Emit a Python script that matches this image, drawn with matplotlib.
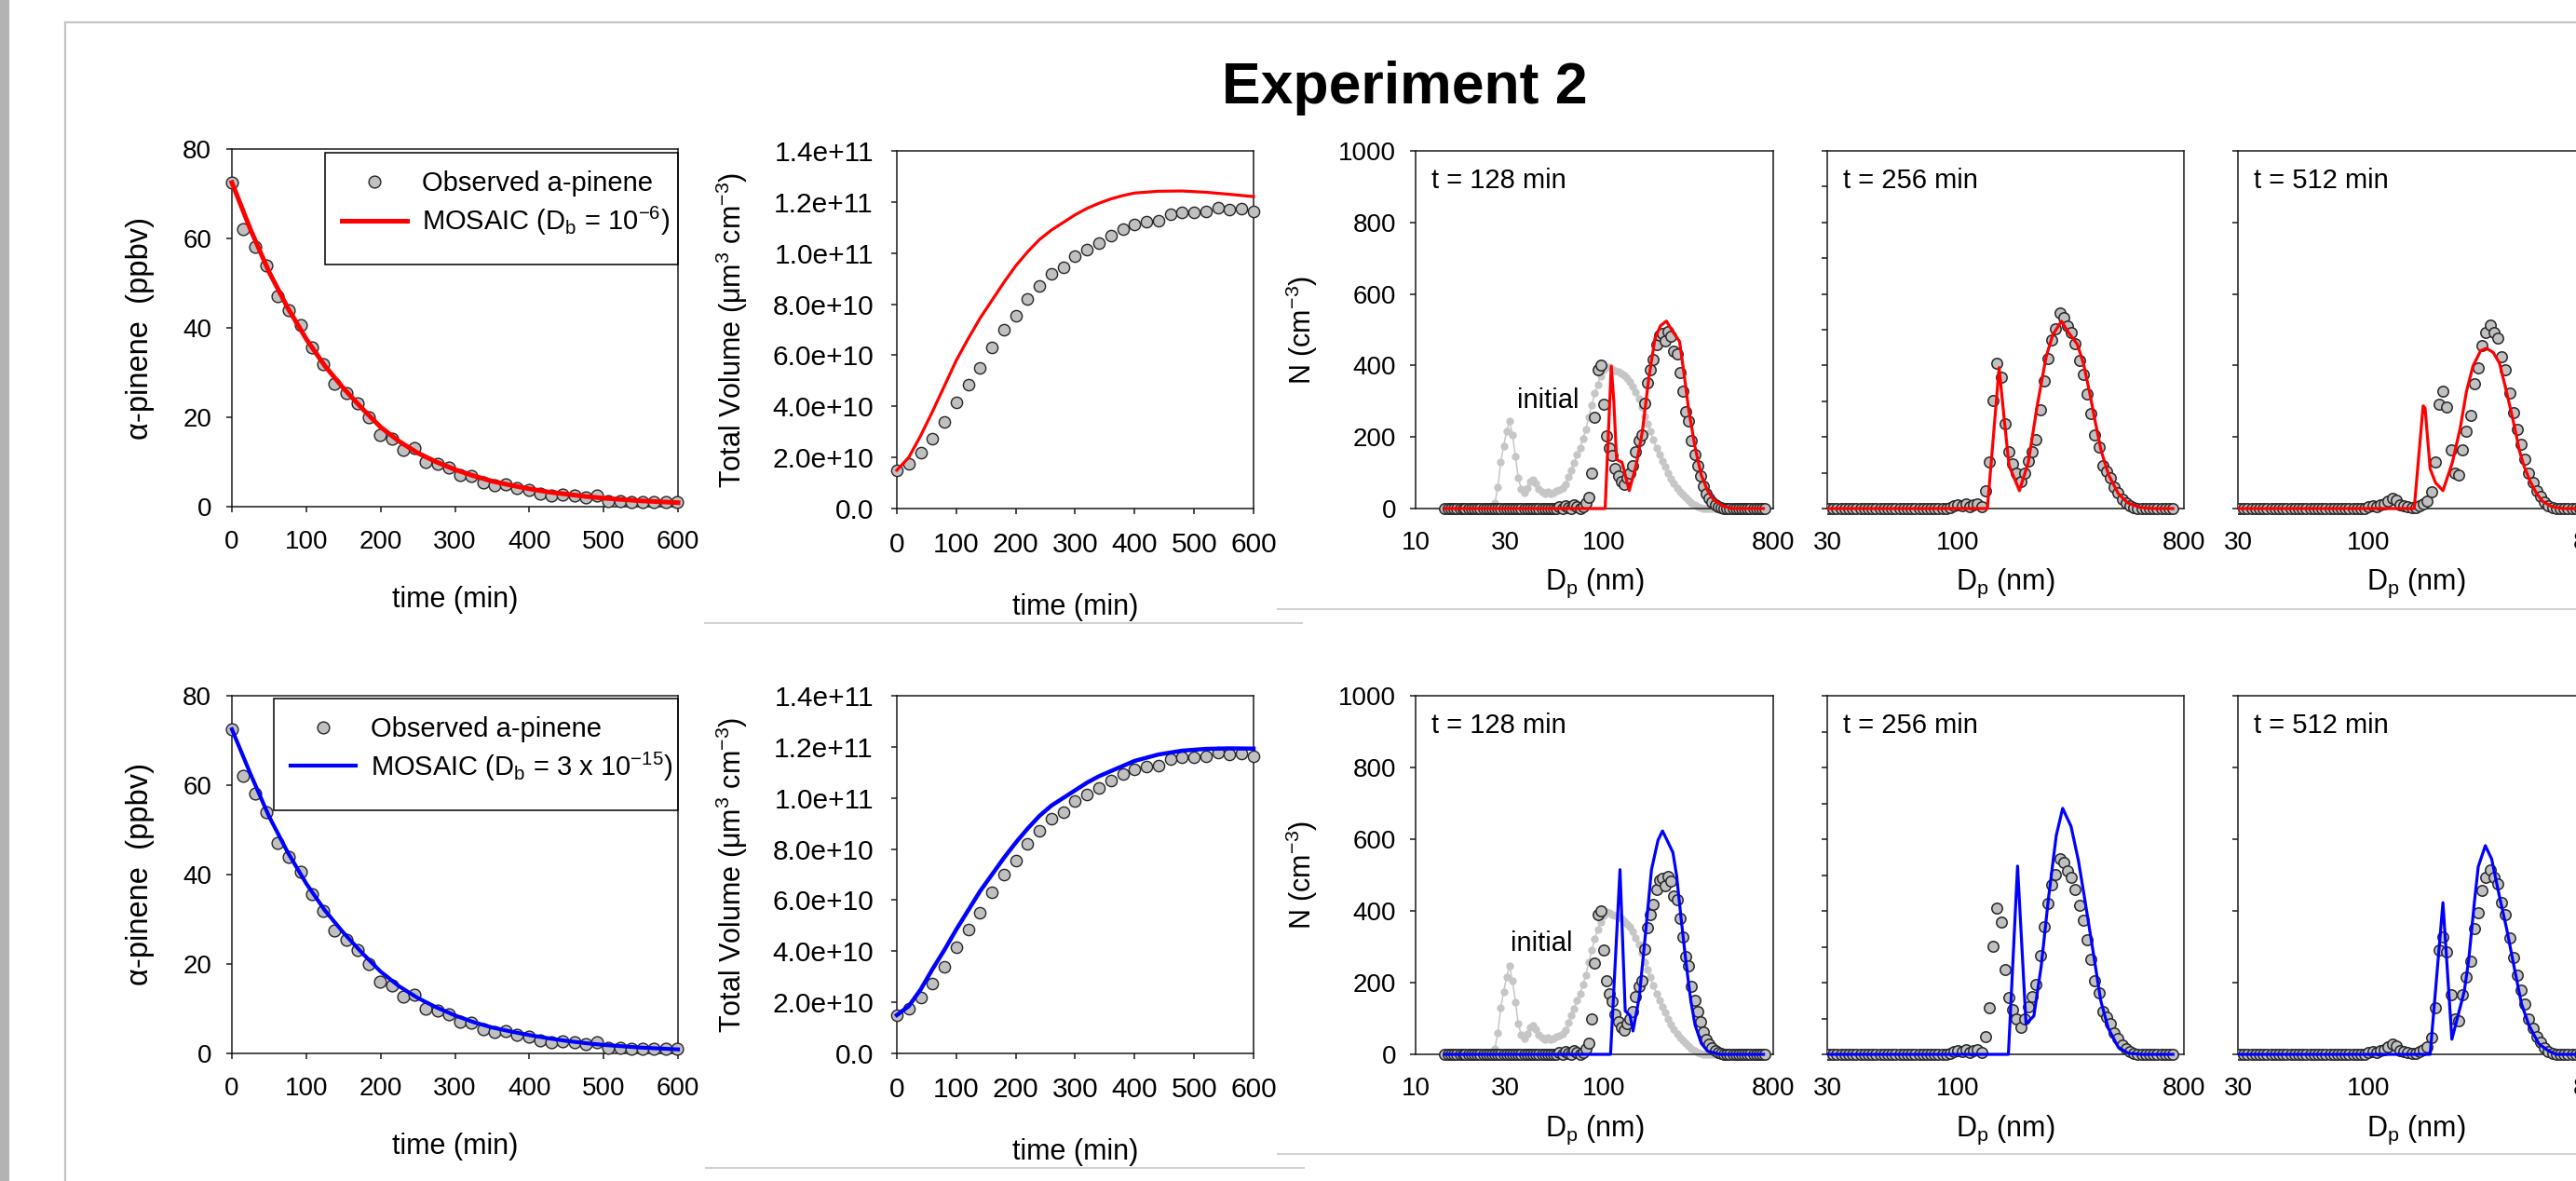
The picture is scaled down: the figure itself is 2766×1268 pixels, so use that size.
import matplotlib
matplotlib.use("Agg")
import matplotlib.pyplot as plt
from matplotlib.lines import Line2D
from matplotlib.patches import Rectangle
from matplotlib.ticker import FixedLocator, FixedFormatter, FuncFormatter

plt.rcParams['font.family'] = ['Liberation Sans', 'DejaVu Sans']
plt.rcParams['mathtext.fontset'] = 'custom'
plt.rcParams['mathtext.rm'] = 'Liberation Sans'
plt.rcParams['mathtext.it'] = 'Liberation Sans:italic'
plt.rcParams['mathtext.bf'] = 'Liberation Sans:bold'
plt.rcParams['mathtext.sf'] = 'Liberation Sans'

# ------------------------------------------------------------------ data
TITLE = 'Experiment 2'

# alpha-pinene time series
ALPHA_OBS_T = [0, 15.4, 30.7, 46.1, 61.4, 76.8, 92.1, 107.5, 122.8, 138.2,
               153.5, 168.9, 184.2, 199.6, 214.9, 230.3, 245.6, 261.0, 276.3, 291.7,
               307.0, 322.4, 337.7, 353.1, 368.4, 383.8, 399.1, 414.5, 429.8, 445.2,
               460.5, 475.9, 491.2, 506.6, 521.9, 537.3, 552.6, 568.0, 583.3, 598.7]
ALPHA_OBS = [72.4, 62.0, 58.2, 54.0, 47.1, 43.9, 40.6, 35.6, 31.8, 27.6,
             25.5, 23.1, 20.0, 16.1, 15.2, 12.7, 13.2, 9.9, 9.5, 8.8,
             7.1, 6.9, 5.4, 4.7, 5.0, 4.2, 3.8, 2.9, 2.5, 2.7,
             2.4, 2.0, 2.5, 1.3, 1.3, 1.0, 1.0, 1.0, 1.0, 1.0]
ALPHA_MODEL_T = [0, 25, 50, 75, 100, 125, 150, 175, 200, 225, 250, 275, 300,
                 325, 350, 375, 400, 425, 450, 475, 500, 525, 550, 575, 600]
ALPHA_MOD_DB6 = [72.5, 62.0, 52.5, 44.5, 37.5, 31.5, 26.5, 22.0, 17.8, 14.6, 12.0, 10.0, 8.3,
                 6.9, 5.7, 4.8, 4.0, 3.3, 2.8, 2.3, 1.9, 1.6, 1.3, 1.1, 0.9]
ALPHA_MOD_DB15 = [72.5, 62.5, 53.0, 45.0, 38.0, 32.0, 27.0, 22.5, 18.3, 15.0, 12.4, 10.3, 8.5,
                  7.0, 5.8, 4.9, 4.1, 3.4, 2.8, 2.3, 1.9, 1.6, 1.3, 1.1, 0.9]
ALPHA_TICKS = [0, 20, 40, 60, 80]
TIME_TICKS = [0, 100, 200, 300, 400, 500, 600]

# total volume time series
VOL_OBS_T = [0, 20, 40, 60, 80, 100, 120, 140, 160, 180, 200, 220, 240, 260, 280, 300,
             320, 340, 360, 380, 400, 420, 440, 460, 480, 500, 520, 540, 560, 580, 600]
VOL_OBS = [1.49e10, 1.74e10, 2.19e10, 2.75e10, 3.40e10, 4.14e10, 4.84e10, 5.49e10,
           6.29e10, 6.99e10, 7.56e10, 8.19e10, 8.72e10, 9.19e10, 9.45e10, 9.88e10,
           1.015e11, 1.039e11, 1.067e11, 1.095e11, 1.113e11, 1.123e11, 1.128e11, 1.152e11,
           1.160e11, 1.160e11, 1.164e11, 1.179e11, 1.170e11, 1.174e11, 1.163e11]
VOL_MODEL_T = [0, 20, 40, 60, 80, 100, 120, 140, 160, 180, 200, 220, 240, 260, 280, 300,
               320, 340, 360, 380, 400, 440, 480, 520, 560, 600]
VOL_MOD_DB6 = [1.5e10, 2.0e10, 2.85e10, 3.8e10, 4.8e10, 5.8e10, 6.65e10, 7.45e10, 8.15e10,
               8.85e10, 9.5e10, 1.005e11, 1.053e11, 1.09e11, 1.12e11, 1.15e11, 1.175e11,
               1.195e11, 1.212e11, 1.225e11, 1.235e11, 1.242e11, 1.243e11, 1.238e11,
               1.230e11, 1.221e11]
VOL_MOD_DB15 = [1.5e10, 1.85e10, 2.5e10, 3.3e10, 4.05e10, 4.85e10, 5.6e10, 6.35e10, 7.0e10,
                7.65e10, 8.25e10, 8.8e10, 9.3e10, 9.7e10, 1.0e11, 1.03e11, 1.06e11,
                1.085e11, 1.105e11, 1.125e11, 1.145e11, 1.17e11, 1.185e11, 1.192e11,
                1.194e11, 1.193e11]
VOL_TICKS = [0, 2e10, 4e10, 6e10, 8e10, 1e11, 1.2e11, 1.4e11]

# SMPS size bins (nm)
DP_BINS = [
    14.3, 14.9, 15.4, 16.0, 16.5, 17.2, 17.8, 18.4, 19.1, 19.8,
    20.5, 21.3, 22.1, 22.9, 23.7, 24.6, 25.5, 26.4, 27.4, 28.4,
    29.4, 30.5, 31.6, 32.8, 34.0, 35.2, 36.5, 37.9, 39.2, 40.7,
    42.2, 43.7, 45.3, 47.0, 48.7, 50.5, 52.3, 54.2, 56.2, 58.3,
    60.4, 62.6, 64.9, 67.3, 69.8, 72.3, 75.0, 77.7, 80.6, 83.5,
    86.6, 89.8, 93.1, 96.5, 100.0, 103.7, 107.5, 111.4, 115.5, 119.7,
    124.1, 128.6, 133.4, 138.2, 143.3, 148.6, 154.0, 159.6, 165.5, 171.5,
    177.8, 184.3, 191.1, 198.1, 205.4, 212.9, 220.7, 228.8, 237.1, 245.8,
    254.8, 264.2, 273.8, 283.9, 294.3, 305.1, 316.2, 327.8, 339.8, 352.3,
    365.2, 378.6, 392.4, 406.8, 421.7, 437.1, 453.2, 469.8, 487.0, 504.8,
    523.3, 542.5, 562.3, 582.9, 604.3, 626.4, 649.4, 673.2, 697.8, 723.4,
]
N_INITIAL = [
    0, 0, 0, 0, 0, 0, 0, 0, 0, 0,
    0, 0, 0, 0, 0, 0, 5, 15, 60, 130,
    175, 215, 246, 205, 145, 85, 55, 45, 58, 75,
    81, 70, 55, 46, 42, 46, 42, 45, 50, 52,
    58, 68, 88, 108, 128, 150, 170, 195, 222, 256,
    290, 322, 347, 370, 388, 397, 396, 390, 386, 382,
    378, 372, 364, 355, 342, 325, 307, 283, 258, 237,
    215, 192, 170, 150, 132, 116, 100, 84, 70, 57,
    47, 39, 31, 23, 16, 11, 6, 3, 1, 0,
    0, 0, 0, 0, 0, 0, 0, 0, 0, 0,
    0, 0, 0, 0, 0, 0, 0, 0, 0, 0,
]
N_OBS_128 = [
    0, 0, 0, 0, 0, 0, 0, 0, 0, 0,
    0, 0, 0, 0, 0, 0, 0, 0, 0, 0,
    0, 0, 0, 0, 0, 0, 0, 0, 0, 0,
    0, 0, 0, 0, 0, 0, 0, 0, 0, 5,
    0, 8, 3, 0, 10, 4, 0, 6, 15, 30,
    100, 255, 389, 400, 292, 204, 170, 148, 111, 91,
    76, 68, 85, 100, 120, 160, 189, 205, 294, 352,
    389, 417, 459, 485, 490, 470, 495, 483, 441, 431,
    380, 328, 272, 246, 189, 150, 120, 90, 62, 42,
    28, 18, 10, 5, 3, 0, 0, 0, 0, 0,
    0, 0, 0, 0, 0, 0, 0, 0, 0, 0,
]
N_OBS_256 = [
    0, 0, 0, 0, 0, 0, 0, 0, 0, 0,
    0, 0, 0, 0, 0, 0, 0, 0, 0, 0,
    0, 0, 0, 0, 0, 0, 0, 0, 0, 0,
    0, 0, 0, 0, 0, 0, 0, 0, 0, 0,
    0, 0, 0, 0, 0, 0, 0, 0, 0, 0,
    0, 0, 3, 8, 11, 8, 12, 6, 10, 14,
    5, 49, 129, 302, 407, 368, 237, 159, 124, 98,
    76, 100, 133, 160, 194, 275, 356, 420, 472, 502,
    546, 535, 511, 493, 460, 415, 374, 320, 265, 205,
    172, 120, 104, 85, 59, 43, 25, 15, 8, 3,
    0, 0, 0, 0, 0, 0, 0, 0, 0, 0,
]
N_OBS_512 = [
    0, 0, 0, 0, 0, 0, 0, 0, 0, 0,
    0, 0, 0, 0, 0, 0, 0, 0, 0, 0,
    0, 0, 0, 0, 0, 0, 0, 0, 0, 0,
    0, 0, 0, 0, 0, 0, 0, 0, 0, 0,
    0, 0, 0, 0, 0, 0, 0, 0, 0, 0,
    0, 0, 0, 0, 5, 9, 6, 10, 14, 20,
    29, 24, 11, 8, 5, 3, 2, 7, 12, 20,
    46, 129, 292, 328, 285, 165, 98, 94, 165, 215,
    261, 350, 394, 457, 493, 513, 493, 476, 424, 389,
    324, 269, 222, 179, 139, 98, 72, 50, 33, 17,
    7, 3, 0, 0, 0, 0, 0, 0, 0, 0,
]

# MOSAIC size distributions, D_b = 1e-6 (red)
RED_128_D = [14.3, 102, 110, 113.4, 117.4, 125.5, 137, 149, 161, 174, 188, 201, 216, 235,
             254, 269, 284, 307, 331, 358, 386, 432, 480, 710]
RED_128_N = [0, 0, 398, 302, 137, 129, 50, 120, 215, 363, 476, 511, 524, 493,
             467, 372, 276, 172, 94, 50, 24, 7, 0, 0]
RED_256_D = [14.3, 131, 146, 153, 160, 176, 191, 207, 225, 239, 259, 276, 300, 317, 335,
             352, 373, 400, 437, 476, 534, 600, 723]
RED_256_N = [0, 0, 394, 250, 120, 50, 129, 285, 424, 485, 524, 493, 459, 407, 328,
             250, 163, 94, 42, 16, 3, 0, 0]
RED_512_D = [14.3, 152, 165, 168, 176, 185, 198, 216, 232, 246, 261, 280, 295, 314, 333,
             350, 367, 384, 400, 417, 442, 469, 496, 541, 600, 723]
RED_512_N = [0, 0, 287, 281, 111, 72, 50, 129, 224, 328, 398, 441, 448, 437, 407,
             346, 285, 224, 163, 120, 76, 42, 20, 5, 0, 0]
# MOSAIC size distributions, D_b = 3e-15 (blue)
BLUE_128_D = [14.3, 102, 109, 122.4, 130.5, 138.5, 143.5, 155, 167, 180, 195, 206, 218,
              234, 245, 259, 275, 291, 307, 332, 358, 415, 710]
BLUE_128_N = [0, 0, 0, 515, 121, 108, 65, 160, 333, 515, 597, 623, 597,
              563, 498, 377, 255, 152, 82, 30, 9, 0, 0]
BLUE_256_D = [14.3, 159, 173, 187, 201, 215, 230, 247, 262, 283, 303, 325, 348, 372, 399,
              437, 479, 540, 723]
BLUE_256_N = [0, 0, 525, 85, 107, 245, 436, 610, 686, 636, 540, 410, 280, 150, 72,
              20, 3, 0, 0]
BLUE_512_D = [14.3, 176, 198, 215, 241, 251, 264, 274, 292.5, 310, 332, 356, 381, 408,
              437, 479, 525, 560, 723]
BLUE_512_N = [0, 0, 423, 42, 176, 263, 419, 523, 582, 545, 445, 350, 245, 141,
              81, 29, 9, 0, 0]

SD_TIMES = ['t = 128 min', 't = 256 min', 't = 512 min']
SD_YTICKS_200 = [0, 200, 400, 600, 800, 1000]
SD_YTICKS_100 = [0, 100, 200, 300, 400, 500, 600, 700, 800, 900, 1000]

# ------------------------------------------------------------------ style
W, H = 2766, 1268
OBS_FILL = '#c0c0c0'
OBS_EDGE = '#262626'
INIT_COL = '#c6c6c6'
SPINE = '#1a1a1a'
RED = '#ff0000'
BLUE = '#0000ff'

fig = plt.figure(figsize=(W / 100, H / 100), dpi=100)
fig.patch.set_facecolor('white')


def box(x0, y0, x1, y1):
    return [x0 / W, 1 - y1 / H, (x1 - x0) / W, (y1 - y0) / H]


def fx(x):
    return x / W


def fy(y):
    return 1 - y / H


# page decorations
fig.add_artist(Rectangle((0, 0), 10 / W, 1, transform=fig.transFigure,
                         color='#b3b3b3', lw=0, zorder=0))
fig.add_artist(Line2D([fx(70), 1], [fy(24), fy(24)], transform=fig.transFigure,
                      color='#c4c4c4', lw=1.6, zorder=0))
fig.add_artist(Line2D([fx(70), fx(70)], [fy(24), 0], transform=fig.transFigure,
                      color='#c4c4c4', lw=1.6, zorder=0))
for (xa, xb, yy) in [(757, 1398, 669), (1372, 2766, 654), (758, 1400, 1254), (1372, 2766, 1239)]:
    fig.add_artist(Line2D([fx(xa), fx(xb)], [fy(yy), fy(yy)], transform=fig.transFigure,
                          color='#d2d2d2', lw=1.5, zorder=0))

fig.text(fx(1508), fy(111.5), TITLE, ha='center', va='baseline',
         fontsize=45, fontweight='bold')


def style(ax, xsize, ysize, xpad, ypad):
    for s in ax.spines.values():
        s.set_linewidth(1.1)
        s.set_color(SPINE)
    ax.tick_params(axis='both', which='both', direction='out', length=4, width=1.1,
                   color=SPINE, top=False, right=False)
    ax.tick_params(axis='x', labelsize=xsize, pad=xpad)
    ax.tick_params(axis='y', labelsize=ysize, pad=ypad)


# ------------------------------------------------------------------ alpha-pinene panels
def draw_alpha(pos, model, color, lw, mlabel, rect, leg_anchor, xlab_base):
    ax = fig.add_axes(box(*pos))
    obs, = ax.plot(ALPHA_OBS_T, ALPHA_OBS, 'o', ms=9.2, mfc=OBS_FILL, mec=OBS_EDGE,
                   mew=1.0, clip_on=False, zorder=3, label='Observed a-pinene')
    mod, = ax.plot(ALPHA_MODEL_T, model, '-', color=color, lw=lw, clip_on=False,
                   zorder=4, label=mlabel)
    ax.set_xlim(0, 600)
    ax.set_ylim(0, 80)
    ax.set_xticks(TIME_TICKS)
    ax.set_yticks(ALPHA_TICKS)
    style(ax, 20, 20, 13.8, 11.8)
    ax.add_patch(Rectangle((rect[0], rect[1]), 1 - rect[0], rect[2] - rect[1],
                           transform=ax.transAxes, fill=False, ec='black', lw=1.1,
                           zorder=5, clip_on=False))
    ax.legend(handles=[obs, mod], loc='center left', bbox_to_anchor=leg_anchor,
              frameon=False, fontsize=21, handlelength=2.4, handletextpad=0.55,
              borderpad=0, borderaxespad=0, labelspacing=0.28, numpoints=1)
    fig.text(fx(150), (fy(pos[1]) + fy(pos[3])) / 2, '\u03b1-pinene  (ppbv)',
             rotation=90, ha='center', va='center', fontsize=23.5)
    fig.text(fx((pos[0] + pos[2]) / 2), fy(xlab_base), 'time (min)', ha='center',
             va='baseline', fontsize=22)
    return ax


draw_alpha((249, 160, 728, 544), ALPHA_MOD_DB6, RED, 3.6,
           r'MOSAIC (D$_\mathrm{b}$ = 10$^{-6}$)', (0.209, 0.677, 0.990),
           (0.246, 0.846), 652)
draw_alpha((249, 747, 728, 1131), ALPHA_MOD_DB15, BLUE, 3.0,
           r'MOSAIC (D$_\mathrm{b}$ = 3 x 10$^{-15}$)', (0.094, 0.680, 0.992),
           (0.132, 0.849), 1239)


# ------------------------------------------------------------------ total volume panels
def vol_fmt(v, pos):
    return '0.0' if v == 0 else '%.1e' % v


def draw_vol(pos, model, color, lw, xlab_base):
    ax = fig.add_axes(box(*pos))
    ax.plot(VOL_OBS_T, VOL_OBS, 'o', ms=8.8, mfc=OBS_FILL, mec=OBS_EDGE, mew=1.0,
            clip_on=False, zorder=3)
    ax.plot(VOL_MODEL_T, model, '-', color=color, lw=lw, clip_on=False, zorder=4)
    ax.set_xlim(0, 600)
    ax.set_ylim(0, 1.4e11)
    ax.set_xticks(TIME_TICKS)
    ax.set_yticks(VOL_TICKS)
    ax.yaxis.set_major_formatter(FuncFormatter(vol_fmt))
    style(ax, 21.5, 21.5, 14.2, 14.0)
    fig.text(fx(786), (fy(pos[1]) + fy(pos[3])) / 2,
             'Total Volume (\u03bcm$^{3}$ cm$^{-3}$)', rotation=90, ha='center',
             va='center', fontsize=22)
    fig.text(fx((pos[0] + pos[2]) / 2), fy(xlab_base), 'time (min)', ha='center',
             va='baseline', fontsize=22)
    return ax


draw_vol((963, 162, 1346, 546), VOL_MOD_DB6, RED, 2.3, 660)
draw_vol((963, 747, 1346, 1131), VOL_MOD_DB15, BLUE, 3.2, 1245)

# ------------------------------------------------------------------ size distribution panels
SD_COLS = [(1520, 1904), (1962, 2345), (2403, 2786)]
SD_ROWS = [(162, 546), (747, 1132)]
OBS_SETS = [N_OBS_128, N_OBS_256, N_OBS_512]
MODEL_SETS = [
    [(RED_128_D, RED_128_N), (RED_256_D, RED_256_N), (RED_512_D, RED_512_N)],
    [(BLUE_128_D, BLUE_128_N), (BLUE_256_D, BLUE_256_N), (BLUE_512_D, BLUE_512_N)],
]
ROW_COLORS = [RED, BLUE]
INITIAL_LABEL_POS = [(34.6, 302), (32.0, 308)]
DP_LABEL_BASE = [633, 1220]

for r, (ya, yb) in enumerate(SD_ROWS):
    for c, (xa, xb) in enumerate(SD_COLS):
        ax = fig.add_axes(box(xa, ya, xb, yb))
        clip = Rectangle((0, -0.06), 1.0, 1.12, transform=ax.transAxes,
                         fill=False, lw=0, visible=False)
        ax.add_patch(clip)
        if c == 0:
            ln, = ax.plot(DP_BINS, N_INITIAL, '-o', color=INIT_COL, lw=1.1, ms=5,
                          mfc=INIT_COL, mec=INIT_COL, zorder=2)
            ln.set_clip_path(clip)
            ax.text(INITIAL_LABEL_POS[r][0], INITIAL_LABEL_POS[r][1], 'initial',
                    fontsize=21, ha='left', va='center', zorder=6)
        ob, = ax.plot(DP_BINS, OBS_SETS[c], 'o', ms=8.2, mfc=OBS_FILL, mec=OBS_EDGE,
                      mew=1.1, zorder=3)
        ob.set_clip_path(clip)
        md, mn = MODEL_SETS[r][c]
        ml, = ax.plot(md, mn, '-', color=ROW_COLORS[r], lw=2.3, zorder=4)
        ml.set_clip_path(clip)
        ax.set_xscale('log')
        ax.set_ylim(0, 1000)
        if c == 0:
            ax.set_xlim(10, 800)
            xt = [10, 30, 100, 800]
            minor_t = [10, 100]
        else:
            ax.set_xlim(30, 800)
            xt = [30, 100, 800]
            minor_t = [800]
        ax.xaxis.set_major_locator(FixedLocator(xt))
        ax.xaxis.set_major_formatter(FixedFormatter([str(v) for v in xt]))
        ax.xaxis.set_minor_locator(FixedLocator(minor_t))
        ax.xaxis.set_minor_formatter(FixedFormatter([''] * len(minor_t)))
        style(ax, 20, 20, 13.5, 11.0)
        ax.tick_params(axis='x', which='major', length=0, pad=17.5)
        ax.tick_params(axis='x', which='minor', length=4)
        if c == 1:
            ax.set_yticks(SD_YTICKS_100)
        else:
            ax.set_yticks(SD_YTICKS_200)
        if c != 0:
            ax.set_yticklabels([])
        ax.text(0.044, 0.895, SD_TIMES[c], transform=ax.transAxes, fontsize=21,
                ha='left', va='baseline')
        fig.text(fx((xa + xb) / 2), fy(DP_LABEL_BASE[r]),
                 r'D$_\mathrm{p}$ (nm)', ha='center', va='baseline', fontsize=22)
        if c == 0:
            fig.text(fx(1398), (fy(ya) + fy(yb)) / 2, r'N (cm$^{-3}$)', rotation=90,
                     ha='center', va='center', fontsize=22)

fig.savefig('out.png', dpi=100, facecolor='white')
